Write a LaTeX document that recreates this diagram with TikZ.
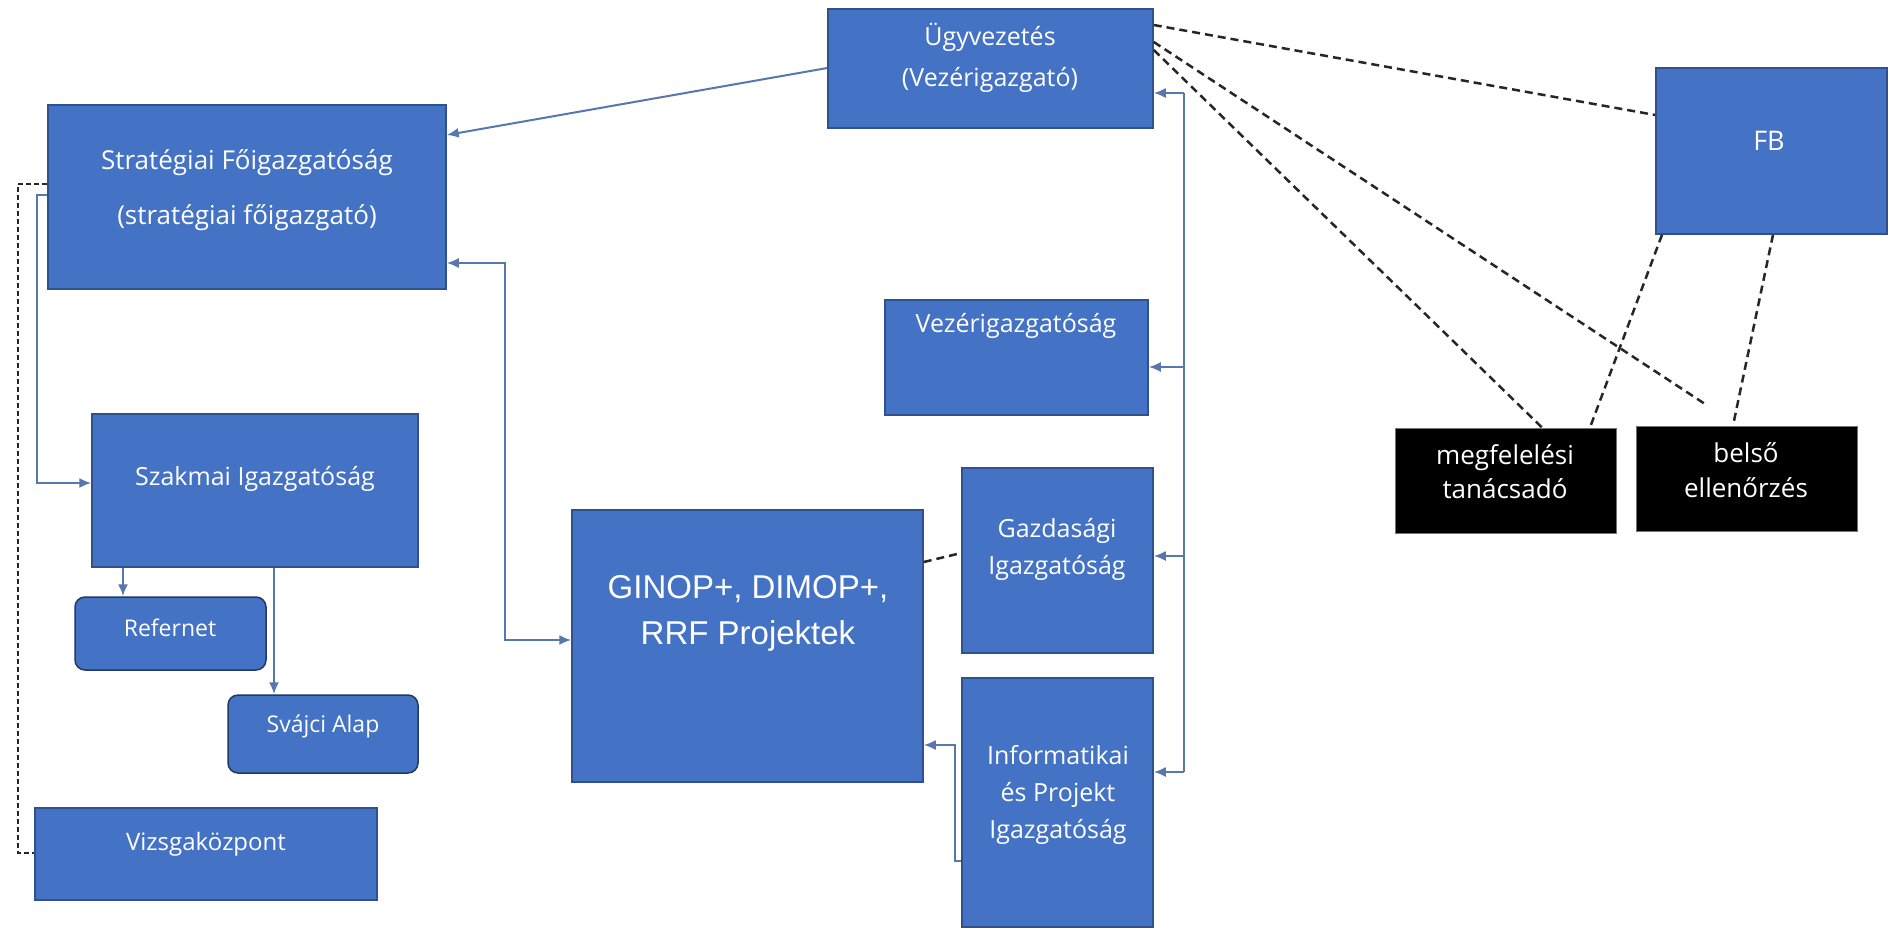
\documentclass[tikz,border=0pt]{standalone}
\usepackage{fontspec}
\setmainfont{Open Sans}
\newfontfamily\arialf{Liberation Sans}
\usetikzlibrary{arrows.meta}
\definecolor{boxblue}{HTML}{4472C4}
\definecolor{boxedge}{HTML}{2F528F}
\definecolor{linkblue}{HTML}{5877AE}
\tikzset{
  box/.style={draw=boxedge, line width=1.5pt, fill=boxblue, inner sep=0pt},
  rbox/.style={box, rounded corners=10pt, draw=boxedge!70!black},
  blackbox/.style={draw=black!55, fill=black, line width=1pt, inner sep=0pt},
  lbl/.style={text=white, align=center, inner sep=0pt, font=\fontsize{25}{38}\selectfont},
  conn/.style={draw=linkblue, line width=2pt, -{Latex[length=12pt,width=10pt]}},
  dashedlink/.style={draw=black!85, line width=2.5pt, dash pattern=on 8pt off 5pt},
}
\begin{document}
\begin{tikzpicture}[x=1pt,y=-1pt]
\fill[white] (0,0) rectangle (1890,930);
\useasboundingbox (0,0) rectangle (1890,930);

% boxes
\node[box, minimum width=325pt, minimum height=119pt] (ugy) at (990.5,68.5) {};
\node[box, minimum width=398pt, minimum height=184pt] (strat) at (247,197) {};
\node[box, minimum width=326pt, minimum height=153pt] (szak) at (255,490.5) {};
\node[rbox, minimum width=191pt, minimum height=73pt] (ref) at (170.5,633.5) {};
\node[rbox, minimum width=190pt, minimum height=78pt] (svaj) at (323,734) {};
\node[box, minimum width=342pt, minimum height=92pt] (vizsga) at (206,854) {};
\node[box, minimum width=351pt, minimum height=272pt] (ginop) at (747.5,646) {};
\node[box, minimum width=263pt, minimum height=115pt] (vez) at (1016.5,357.5) {};
\node[box, minimum width=191pt, minimum height=185pt] (gazd) at (1057.5,560.5) {};
\node[box, minimum width=191pt, minimum height=249pt] (inf) at (1057.5,802.5) {};
\node[box, minimum width=231pt, minimum height=166pt] (fb) at (1771.5,151) {};
\node[blackbox, minimum width=221pt, minimum height=105pt] (megf) at (1505.5,480.5) {};
\node[blackbox, minimum width=221pt, minimum height=105pt] (bel) at (1746.5,478.5) {};

% labels
\node[lbl, font=\fontsize{25}{41}\selectfont] (ugyT) at (990,58) {Ügyvezetés\\(Vezérigazgató)};
\node[lbl, font=\fontsize{26}{55}\selectfont] (stratT) at (247,190) {Stratégiai Főigazgatóság\\(stratégiai főigazgató)};
\node[lbl] (szakT) at (255,479) {Szakmai Igazgatóság};
\node[lbl, font=\fontsize{23}{30}\selectfont] (refT) at (170,628) {Refernet};
\node[lbl, font=\fontsize{23}{30}\selectfont] (svajT) at (323,726) {Svájci Alap};
\node[lbl, font=\fontsize{24}{30}\selectfont] (vizsgaT) at (206,844) {Vizsgaközpont};
\node[lbl, font=\arialf\fontsize{33}{46}\selectfont] (ginopT) at (748,613) {GINOP+, DIMOP+,\\RRF Projektek};
\node[lbl] (vezT) at (1016,326) {Vezérigazgatóság};
\node[lbl, font=\fontsize{25}{37}\selectfont] (gazdT) at (1057,549) {Gazdasági\\Igazgatóság};
\node[lbl, font=\fontsize{25}{37}\selectfont] (infT) at (1058,795) {Informatikai\\és Projekt\\Igazgatóság};
\node[lbl, font=\fontsize{27}{30}\selectfont] (fbT) at (1769,141) {FB};
\node[lbl, font=\fontsize{26}{34}\selectfont] (megfT) at (1505,472) {megfelelési\\tanácsadó};
\node[lbl, font=\fontsize{26}{35}\selectfont] (belT) at (1746,470) {belső\\ellenőrzés};

% Ugyvezetes -> Strategiai
\draw[conn] (ugy.west |- 0,68) -- (strat.east |- 0,135);

% bus on the right
\coordinate (busT) at (1184,93);
\coordinate (busV) at (1184,367);
\coordinate (busG) at (1184,556);
\coordinate (busB) at (1184,772);
\draw[conn,-] (busT) -- (busB);
\draw[conn] (busT) -- (ugy.east |- busT);
\draw[conn] (busV) -- (vez.east |- busV);
\draw[conn] (busG) -- (gazd.east |- busG);
\draw[conn] (busB) -- (inf.east |- busB);

% Strategiai -> Szakmai
\coordinate (ssA) at (37,195);
\coordinate (ssB) at (37,483);
\draw[conn] (strat.west |- ssA) -- (ssA) -- (ssB) -- (szak.west |- ssB);

% Strategiai - - Vizsgakozpont
\coordinate (vzA) at (18,184);
\coordinate (vzB) at (18,853);
\draw[dashedlink, line width=2pt, dash pattern=on 5pt off 3pt] (strat.west |- vzA) -- (vzA) -- (vzB) -- (vizsga.west |- vzB);

% Szakmai -> Refernet, Svajci
\coordinate (rfX) at (123,0);
\coordinate (svX) at (274,0);
\draw[conn] (szak.south -| rfX) -- (ref.north -| rfX);
\draw[conn] (szak.south -| svX) -- (svaj.north -| svX);

% Strategiai <-> GINOP
\coordinate (sgTop) at (505,263);
\coordinate (sgBot) at (505,640);
\draw[conn,{Latex[length=12pt,width=10pt]}-{Latex[length=12pt,width=10pt]}] (strat.east |- sgTop) -- (sgTop) -- (sgBot) -- (ginop.west |- sgBot);

% Informatikai -> GINOP
\coordinate (ig1) at (955,861);
\coordinate (ig2) at (955,745);
\draw[conn] (inf.west |- ig1) -- (ig1) -- (ig2) -- (ginop.east |- ig2);

% GINOP - - Gazdasagi
\draw[dashedlink] (ginop.east |- 0,562) -- (gazd.west |- 0,553);

% dashed links on the right
\coordinate (freeEnd) at (1705,404);
\draw[dashedlink] (ugy.east |- 0,25) -- (fb.west |- 0,115);
\draw[dashedlink] (ugy.east |- 0,42) -- (freeEnd);
\draw[dashedlink] (ugy.east |- 0,50) -- (megf.north -| 1542,0);
\draw[dashedlink] (fb.south -| 1662,0) -- (megf.north -| 1590,0);
\draw[dashedlink] (fb.south -| 1773,0) -- (bel.north -| 1733,0);
\end{tikzpicture}
\end{document}
